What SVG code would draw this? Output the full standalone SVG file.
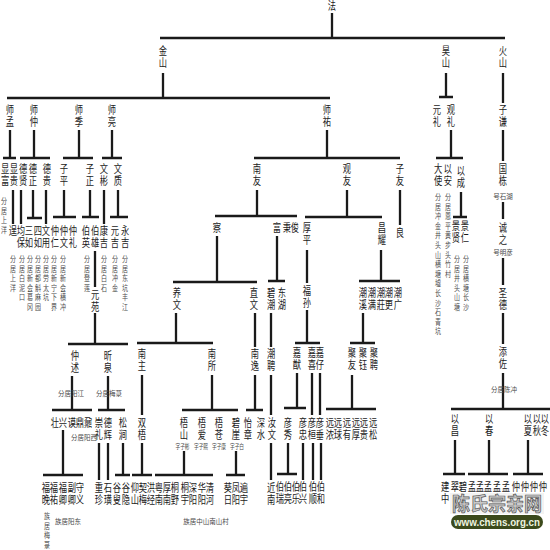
<svg xmlns="http://www.w3.org/2000/svg" width="550" height="550" viewBox="0 0 550 550">
<style>
.n{font-family:"Noto Sans CJK SC","Noto Sans",sans-serif;font-size:11px;writing-mode:vertical-rl;letter-spacing:1.5px;fill:#1a1a1a;transform:scaleX(.75);transform-box:fill-box;transform-origin:50% 0}
.a{font-family:"Noto Sans CJK SC","Noto Sans",sans-serif;font-size:8px;writing-mode:vertical-rl;letter-spacing:1.6px;fill:#4a4a4a;transform:scaleX(.75);transform-box:fill-box;transform-origin:50% 0}
.h{font-family:"Noto Sans CJK SC","Noto Sans",sans-serif;font-size:6.5px;text-anchor:middle;fill:#4a4a4a}
.c{fill:none;stroke:#1a1a1a;stroke-width:2.3}
</style>
<rect width="550" height="550" fill="#fff"/>
<g id="connectors" class="c">
<path d="M332 13V38M160 38H505M163 73V98M7 98H330M446 73V97M439 97H453M503 73V103"/>
<path d="M10 130V158M3 158H16M34 130V158M20 158H50M79 130V158M63 158H93M112 130V158M102 158H122M327 130V158M254 158H400M451 130V158M436 158H463M503 130V161"/>
<path d="M13 190V224M21 190V224M33 190V218M27 218H42M46 190V224M64 190V217M53 217H76M90 190V217M82 217H99M104 190V224M118 190V217M110 217H128"/>
<path d="M95 251V287M95 313V344M68 344H128M72 376V410M52 410H92M108 376V410M98 410H125M63 430V475M43 475H83M99 443V480M108 443V480M123 443V475M115 475H130"/>
<path d="M257 190V216M215 216H297M217 236V282M173 282H257M277 236V281M268 281H285M176 313V343M137 343H213M255 313V347M271 313V347"/>
<path d="M142 375V415M142 443V475M132 475H152M212 375V410M182 410H238M184 451V475M155 475H213M236 451V475M226 475H245M255 375V410M246 410H263M271 375V415M271 443V480"/>
<path d="M347 190V217M305 217H382M400 190V225M307 250V283M307 310V343M295 343H320M381 250V281M359 281H400M363 313V343M350 343H375"/>
<path d="M297 373V408M284 408H306M312 373V415M320 373V415M352 375V409M326 409H376M288 443V474M277 474H297M303 443V480M313 443V480M321 443V480"/>
<path d="M461 192V217M453 217H467M503 202V219M503 258V285M503 313V344M503 373V409M451 409H550M455 440V474M443 474H465M489 440V474M468 474H508M528 440V474M513 474H543"/>
</g>
<g id="n-fa"><text class="n" x="332" y="0">法</text></g>
<g id="n-jinshan"><text class="n" x="163" y="45">金山</text></g>
<g id="n-haoshan"><text class="n" x="446" y="45">昊山</text></g>
<g id="n-huoshan"><text class="n" x="503" y="45">火山</text></g>
<g id="n-shimeng"><text class="n" x="10" y="104">师孟</text></g>
<g id="n-shizhong"><text class="n" x="34" y="104">师仲</text></g>
<g id="n-shiji"><text class="n" x="79" y="104">师季</text></g>
<g id="n-shiliang"><text class="n" x="112" y="104">师亮</text></g>
<g id="n-shiyou"><text class="n" x="327" y="104">师祐</text></g>
<g id="n-yuanli"><text class="n" x="437" y="104">元礼</text></g>
<g id="n-guanli"><text class="n" x="451" y="104">观礼</text></g>
<g id="n-ziqian"><text class="n" x="503" y="104">子谦</text></g>
<g id="n-xianfu"><text class="n" x="5" y="163">显富</text><text class="a" x="4" y="197">分居上洋</text></g>
<g id="n-xiangui"><text class="n" x="14" y="163">显贵</text></g>
<g id="n-dexian"><text class="n" x="23" y="163">德贤</text></g>
<g id="n-dezheng"><text class="n" x="33" y="163">德正</text></g>
<g id="n-degui"><text class="n" x="47" y="163">德贵</text></g>
<g id="n-ziping"><text class="n" x="64" y="163">子平</text></g>
<g id="n-zizheng"><text class="n" x="90" y="163">子正</text></g>
<g id="n-wenbin"><text class="n" x="104" y="163">文彬</text></g>
<g id="n-wenzhi"><text class="n" x="118" y="163">文质</text></g>
<g id="n-cheng"><text class="n" x="13" y="225">逞</text><text class="a" x="13" y="255">分居上洋</text></g>
<g id="n-junbao"><text class="n" x="21" y="225">均保</text><text class="a" x="22" y="255">分居白泥口</text></g>
<g id="n-sanru"><text class="n" x="29" y="225">三如</text><text class="a" x="30" y="255">分居新会葛冈</text></g>
<g id="n-siru"><text class="n" x="38" y="225">四如</text><text class="a" x="38" y="255">分居都斛麻园</text></g>
<g id="n-wenyong"><text class="n" x="46" y="225">文用</text><text class="a" x="46" y="255">分居劳太坑</text></g>
<g id="n-zhongren"><text class="n" x="55" y="225">仲仁</text><text class="a" x="54" y="255">分居新宁下界</text></g>
<g id="n-zhongwen"><text class="n" x="64" y="225">仲文</text><text class="a" x="63" y="255">分居新会横冲</text></g>
<g id="n-zhongli"><text class="n" x="73" y="225">仲礼</text></g>
<g id="n-boying"><text class="n" x="86" y="225">伯英</text><text class="a" x="87" y="255">分居登莲</text></g>
<g id="n-boxiong"><text class="n" x="95" y="225">伯雄</text></g>
<g id="n-kangji"><text class="n" x="104" y="225">康吉</text><text class="a" x="104" y="255">分居白石</text></g>
<g id="n-yuanji"><text class="n" x="115" y="225">元吉</text><text class="a" x="115" y="255">分居冲金</text></g>
<g id="n-yongji"><text class="n" x="125" y="225">永吉</text><text class="a" x="125" y="255">分居东坑丰江</text></g>
<g id="n-yuanyuan"><text class="n" x="95" y="289">元苑</text></g>
<g id="n-zhongshu"><text class="n" x="75" y="350">仲述</text><text class="h" x="71" y="396">分居阳江</text></g>
<g id="n-xinquan"><text class="n" x="108" y="350">昕泉</text><text class="h" x="109" y="396">分居梅菉</text></g>
<g id="n-zhuang"><text class="n" x="55" y="417">壮</text></g>
<g id="n-xing"><text class="n" x="63" y="417">兴</text></g>
<g id="n-mo"><text class="n" x="72" y="417">谟</text></g>
<g id="n-ding"><text class="n" x="80" y="417">鼎</text></g>
<g id="n-nai"><text class="n" x="88" y="417">鼐</text><text class="h" x="84" y="440">分居阳西</text></g>
<g id="n-chongli"><text class="n" x="99" y="417">崇礼</text></g>
<g id="n-dehui"><text class="n" x="108" y="417">德辉</text></g>
<g id="n-songjian"><text class="n" x="123" y="417">松涧</text></g>
<g id="n-fuwan"><text class="n" x="46" y="482">福晚</text><text class="a" x="47" y="512">族居梅菉</text></g>
<g id="n-fuyou"><text class="n" x="54" y="482">福祐</text></g>
<g id="n-fuqing"><text class="n" x="63" y="482">福卿</text></g>
<g id="n-fuqing2"><text class="n" x="72" y="482">副卿</text></g>
<g id="n-shouyi"><text class="n" x="80" y="482">守义</text><text class="h" x="68" y="524">族居阳东</text></g>
<g id="n-chongzhen"><text class="n" x="99" y="482">重珍</text></g>
<g id="n-shihuang"><text class="n" x="108" y="482">石璜</text></g>
<g id="n-gusou"><text class="n" x="117" y="482">谷叟</text></g>
<g id="n-guyin"><text class="n" x="126" y="482">谷隐</text></g>
<g id="n-nanyou"><text class="n" x="257" y="163">南友</text></g>
<g id="n-guanyou"><text class="n" x="347" y="163">观友</text></g>
<g id="n-ziyou"><text class="n" x="400" y="163">子友</text></g>
<g id="n-cha"><text class="n" x="217" y="222">察</text></g>
<g id="n-fu"><text class="n" x="277" y="222">富</text></g>
<g id="n-bing"><text class="n" x="287" y="222">秉</text></g>
<g id="n-jun"><text class="n" x="295" y="222">俊</text></g>
<g id="n-houping"><text class="n" x="307" y="222">厚平</text></g>
<g id="n-changyao"><text class="n" x="382" y="222">昌耀</text></g>
<g id="n-liang"><text class="n" x="400" y="227">良</text></g>
<g id="n-yangwen"><text class="n" x="177" y="287">养文</text></g>
<g id="n-zhiwen"><text class="n" x="254" y="287">直文</text></g>
<g id="n-bichao"><text class="n" x="271" y="287">碧潮</text></g>
<g id="n-donghu"><text class="n" x="282" y="287">东湖</text></g>
<g id="n-fusun"><text class="n" x="307" y="285">福孙</text></g>
<g id="n-chaoxi"><text class="n" x="363" y="287">潮溪</text></g>
<g id="n-chaoman"><text class="n" x="372" y="287">潮满</text></g>
<g id="n-chaozhuang"><text class="n" x="381" y="287">潮莊</text></g>
<g id="n-chaogeng"><text class="n" x="389" y="287">潮更</text></g>
<g id="n-chaoguang"><text class="n" x="398" y="287">潮广</text></g>
<g id="n-nanzhu"><text class="n" x="142" y="348">南主</text></g>
<g id="n-nansuo"><text class="n" x="212" y="348">南所</text></g>
<g id="n-nanyi"><text class="n" x="255" y="348">南逸</text></g>
<g id="n-chaopin"><text class="n" x="271" y="348">潮聘</text></g>
<g id="n-jiayou"><text class="n" x="297" y="347">嘉猷</text></g>
<g id="n-jiaxi"><text class="n" x="312" y="347">嘉喜</text></g>
<g id="n-jiazai"><text class="n" x="320" y="347">嘉仔</text></g>
<g id="n-juyou"><text class="n" x="352" y="347">聚友</text></g>
<g id="n-juyu"><text class="n" x="363" y="347">聚钰</text></g>
<g id="n-jupin"><text class="n" x="374" y="347">聚聘</text></g>
<g id="n-shuangwu"><text class="n" x="142" y="417">双梧</text></g>
<g id="n-wushan"><text class="n" x="184" y="417">梧山</text><text class="h" x="182.5" y="449" textLength="14" lengthAdjust="spacingAndGlyphs">字子彬</text></g>
<g id="n-wuai"><text class="n" x="202" y="417">梧爱</text><text class="h" x="201" y="449" textLength="14" lengthAdjust="spacingAndGlyphs">字子熙</text></g>
<g id="n-wucang"><text class="n" x="219" y="417">梧苍</text><text class="h" x="219" y="449" textLength="14" lengthAdjust="spacingAndGlyphs">字子康</text></g>
<g id="n-biya"><text class="n" x="236" y="417">碧崖</text><text class="h" x="237" y="449" textLength="14" lengthAdjust="spacingAndGlyphs">字子白</text></g>
<g id="n-yizhang"><text class="n" x="248" y="417">怡章</text></g>
<g id="n-shenshui"><text class="n" x="261" y="417">深水</text></g>
<g id="n-ruwen"><text class="n" x="272" y="417">汝文</text></g>
<g id="n-yanxiu"><text class="n" x="288" y="417">彦秀</text></g>
<g id="n-yanzhong"><text class="n" x="303" y="417">彦忠</text></g>
<g id="n-yanhuan"><text class="n" x="312" y="417">彦桓</text></g>
<g id="n-yanchui"><text class="n" x="320" y="417">彦垂</text></g>
<g id="n-yuannong"><text class="n" x="330" y="417">远浓</text></g>
<g id="n-yuanqiu"><text class="n" x="338" y="417">远球</text></g>
<g id="n-yuanyou"><text class="n" x="347" y="417">远有</text></g>
<g id="n-yuanhou"><text class="n" x="356" y="417">远厚</text></g>
<g id="n-yuangui"><text class="n" x="364" y="417">远贵</text></g>
<g id="n-yuansong"><text class="n" x="373" y="417">远松</text></g>
<g id="n-yangshan"><text class="n" x="135" y="482">仰山</text></g>
<g id="n-qimei"><text class="n" x="143" y="482">契梅</text></g>
<g id="n-hongjing"><text class="n" x="151" y="482">洪经</text></g>
<g id="n-yuenan"><text class="n" x="159" y="482">粤南</text></g>
<g id="n-hounan"><text class="n" x="167" y="482">厚南</text></g>
<g id="n-tongye"><text class="n" x="175" y="482">桐野</text></g>
<g id="n-tongyu"><text class="n" x="185" y="482">桐宇</text></g>
<g id="n-shenyang"><text class="n" x="193" y="482">深阳</text></g>
<g id="n-huayang"><text class="n" x="202" y="482">华阳</text></g>
<g id="n-qinghe"><text class="n" x="210" y="482">清河</text><text class="h" x="206" y="524">族居中山南山村</text></g>
<g id="n-kuiri"><text class="n" x="228" y="482">葵日</text></g>
<g id="n-fengyang"><text class="n" x="236" y="482">凤阳</text></g>
<g id="n-bianyu"><text class="n" x="244" y="482">遍宇</text></g>
<g id="n-jinnan"><text class="n" x="271" y="482">近南</text></g>
<g id="n-borui"><text class="n" x="280" y="481">伯瑞</text></g>
<g id="n-boliang"><text class="n" x="288" y="481">伯亮</text></g>
<g id="n-bole"><text class="n" x="296" y="481">伯乐</text></g>
<g id="n-boxing"><text class="n" x="303" y="481">伯兴</text></g>
<g id="n-boshun"><text class="n" x="313" y="481">伯顺</text></g>
<g id="n-bohe"><text class="n" x="321" y="481">伯和</text></g>
<g id="n-dashi"><text class="n" x="438" y="163">大使</text><text class="a" x="438" y="193">分居冲金井头山横塘墟长沙石青坑</text></g>
<g id="n-yian"><text class="n" x="448" y="163">以安</text><text class="a" x="448" y="193">分居恩平黄步头竹村</text></g>
<g id="n-yicheng"><text class="n" x="461" y="165">以成</text></g>
<g id="n-jingxian"><text class="n" x="456" y="220">景贤</text><text class="a" x="457" y="255">分居井头山塘</text></g>
<g id="n-jingren"><text class="n" x="465" y="220">景仁</text><text class="a" x="466" y="255">分居横塘长沙</text></g>
<g id="n-guodong"><text class="n" x="503" y="163">国栋</text><text class="h" x="503" y="199">号石湖</text></g>
<g id="n-chengzhi"><text class="n" x="503" y="222">诚之</text><text class="h" x="503" y="255">号明彦</text></g>
<g id="n-shengde"><text class="n" x="503" y="287">圣德</text></g>
<g id="n-tianzuo"><text class="n" x="503" y="346">添佐</text><text class="h" x="504" y="392">分居陈冲</text></g>
<g id="n-yichang"><text class="n" x="455" y="413">以昌</text></g>
<g id="n-yichun"><text class="n" x="489" y="413">以春</text></g>
<g id="n-yixia"><text class="n" x="528" y="413">以夏</text></g>
<g id="n-yiqiu"><text class="n" x="537" y="413">以秋</text></g>
<g id="n-yidong"><text class="n" x="545" y="413">以冬</text></g>
<g id="n-jianzhong"><text class="n" x="445" y="481">建中</text></g>
<g id="n-cui"><text class="n" x="455" y="481">翠</text></g>
<g id="n-bi"><text class="n" x="463" y="481">碧</text></g>
<g id="n-meng1"><text class="n" x="472" y="481">孟</text></g>
<g id="n-meng2"><text class="n" x="480" y="481">孟</text></g>
<g id="n-meng3"><text class="n" x="488" y="481">孟</text></g>
<g id="n-meng4"><text class="n" x="497" y="481">孟</text></g>
<g id="n-meng5"><text class="n" x="506" y="481">孟</text></g>
<g id="n-zhong1"><text class="n" x="516" y="481">仲</text></g>
<g id="n-zhong2"><text class="n" x="525" y="481">仲</text></g>
<g id="n-zhong3"><text class="n" x="534" y="481">仲</text></g>
<g id="n-zhong4"><text class="n" x="543" y="481">仲</text></g>
<g id="watermark">
<rect x="450" y="493" width="94" height="21" fill="#f2f2f2" opacity="0.9"/>
<text x="497" y="511" text-anchor="middle" textLength="90" lengthAdjust="spacingAndGlyphs" font-family="Noto Sans CJK SC, sans-serif" font-size="19" font-weight="bold" fill="#c8c8c8" stroke="#555" stroke-width="0.7">陈氏宗亲网</text>
<rect x="451" y="515" width="92" height="14" rx="7" fill="#3b4a1c"/>
<text x="497" y="526" text-anchor="middle" textLength="86" lengthAdjust="spacingAndGlyphs" font-family="Liberation Sans, sans-serif" font-size="11" font-weight="bold" fill="#eef5e0">www.chens.org.cn</text>
</g>
</svg>
